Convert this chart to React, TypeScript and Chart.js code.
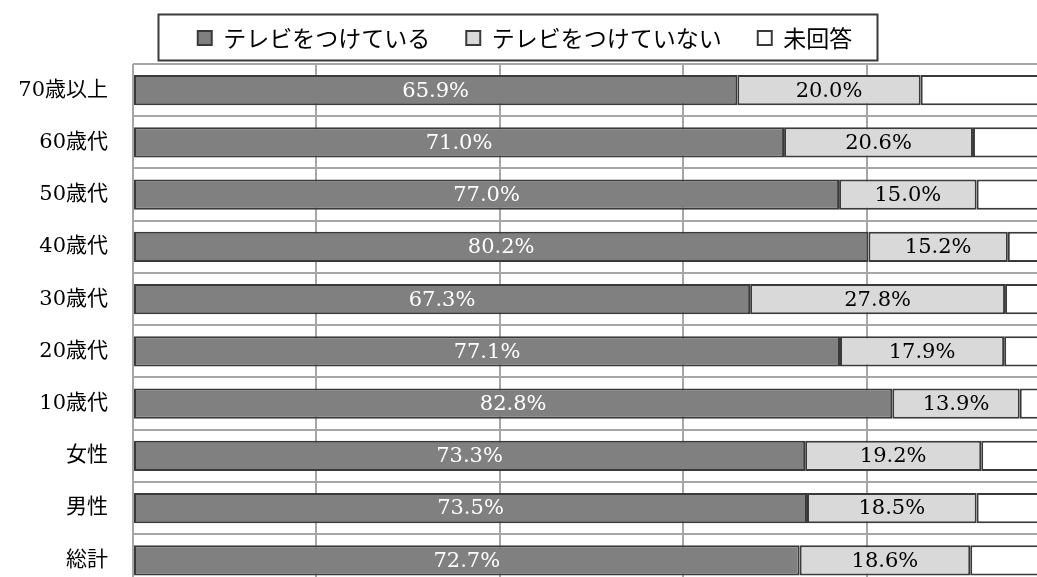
import React, { useEffect, useRef } from 'react';
import { Chart, registerables } from 'chart.js';

Chart.register(...registerables);

const categories = ['70歳以上', '60歳代', '50歳代', '40歳代', '30歳代', '20歳代', '10歳代', '女性', '男性', '総計'];
const seriesNames = ['テレビをつけている', 'テレビをつけていない', '未回答'];
const tvOn = [65.9, 71.0, 77.0, 80.2, 67.3, 77.1, 82.8, 73.3, 73.5, 72.7];
const tvOff = [20.0, 20.6, 15.0, 15.2, 27.8, 17.9, 13.9, 19.2, 18.5, 18.6];
const noAnswer = [14.1, 8.4, 8.0, 4.6, 4.9, 5.0, 3.3, 7.5, 8.0, 8.7];
const xMin = 0;
const xMax = 100;
const xStep = 20;

const LEGEND_PAD = 36;
const LEGEND_FONT = 23;

const legendLayout = {
  id: 'legendLayout',
  afterInit(chart: any) {
    const lg = chart.legend;
    if (!lg) return;
    const orig = lg.fit;
    lg.fit = function () {
      orig.call(this);
      this.height = 64;
    };
  },
  afterLayout(chart: any) {
    const lg = chart.legend;
    if (!lg) return;
    const h = lg.height;
    lg.top = 38 - LEGEND_PAD - LEGEND_FONT / 2;
    lg.bottom = lg.top + h;
  },
  afterDraw(chart: any) {
    const lg = chart.legend;
    if (!lg || !lg.lineWidths) return;
    const ctx = chart.ctx;
    const lw = lg.lineWidths[0];
    const start = (lg.left + LEGEND_PAD + lg.right - lw) / 2;
    const end = start + lw - LEGEND_PAD;
    const cy = lg.top + LEGEND_PAD + LEGEND_FONT / 2;
    ctx.save();
    ctx.strokeStyle = '#3a3a3a';
    ctx.lineWidth = 2;
    ctx.strokeRect(Math.round(start - 40) + 0.5, Math.round(cy - 24) + 0.5, Math.round(end - start + 64), 46);
    ctx.restore();
  },
};

const valueLabels = {
  id: 'valueLabels',
  afterDatasetsDraw(chart: any) {
    const ctx = chart.ctx;
    ctx.save();
    ctx.font = '21px "DejaVu Serif", "Liberation Serif", serif';
    ctx.textAlign = 'center';
    ctx.textBaseline = 'middle';
    [0, 1].forEach((di) => {
      const meta = chart.getDatasetMeta(di);
      ctx.fillStyle = di === 0 ? '#ffffff' : '#000000';
      meta.data.forEach((el: any, i: number) => {
        const { x, y, base } = el.getProps(['x', 'y', 'base'], true);
        const v = chart.data.datasets[di].data[i] as number;
        ctx.fillText(v.toFixed(1) + '%', (x + base) / 2, y + 1);
      });
    });
    ctx.restore();
  },
};

export default function App() {
  const ref = useRef<HTMLCanvasElement | null>(null);

  useEffect(() => {
    if (!ref.current) return;
    const common = {
      borderColor: '#3a3a3a',
      borderWidth: 2,
      borderSkipped: false,
      barPercentage: 0.58,
      categoryPercentage: 1,
    };
    const chart = new Chart(ref.current, {
      type: 'bar',
      data: {
        labels: categories,
        datasets: [
          { label: seriesNames[0], data: tvOn, backgroundColor: '#808080', ...common },
          { label: seriesNames[1], data: tvOff, backgroundColor: '#d9d9d9', ...common },
          { label: seriesNames[2], data: noAnswer, backgroundColor: '#ffffff', ...common },
        ],
      },
      options: {
        indexAxis: 'y',
        animation: false,
        responsive: true,
        maintainAspectRatio: false,
        layout: { padding: { top: 0, left: 0, right: 10, bottom: 16 } },
        plugins: {
          legend: {
            display: true,
            position: 'top',
            labels: {
              boxWidth: 14,
              boxHeight: 14,
              padding: LEGEND_PAD,
              color: '#000000',
              font: { family: "'Noto Sans CJK JP', sans-serif", size: LEGEND_FONT },
            },
          },
          tooltip: { enabled: false },
        },
        scales: {
          x: {
            stacked: true,
            min: xMin,
            max: xMax,
            ticks: { display: false, stepSize: xStep },
            grid: { color: '#a6a6a6', lineWidth: 2, drawTicks: false },
            border: { display: false },
          },
          y: {
            stacked: true,
            ticks: {
              color: '#000000',
              padding: 25,
              font: { family: "'DejaVu Serif', 'Noto Sans CJK JP', serif", size: 21 },
            },
            grid: { color: '#a6a6a6', lineWidth: 2, drawTicks: false },
            border: { display: false },
            afterFit: (scale: any) => {
              scale.width = 133;
            },
          },
        },
      } as any,
      plugins: [legendLayout, valueLabels],
    });
    return () => chart.destroy();
  }, []);

  return (
    <div style={{ position: 'fixed', left: 0, top: 0, width: 1037, height: 577, overflow: 'hidden', background: '#ffffff' }}>
      <div style={{ position: 'relative', width: 1060, height: 624 }}>
        <canvas ref={ref} />
      </div>
    </div>
  );
}
